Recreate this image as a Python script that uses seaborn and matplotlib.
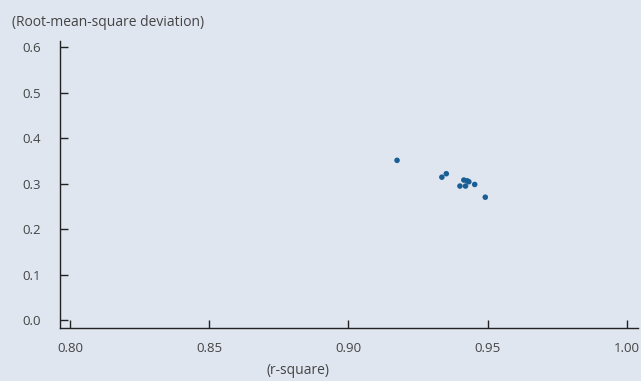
import numpy as np
import pandas as pd
import matplotlib
matplotlib.use('Agg')
import matplotlib.pyplot as plt
import seaborn as sns

r_square = [0.9175, 0.9336, 0.9352, 0.9415, 0.9427, 0.9433, 0.9401, 0.9421, 0.9454, 0.9492]
rmsd = [0.351, 0.314, 0.3216, 0.3077, 0.306, 0.304, 0.2945, 0.2945, 0.298, 0.270]
x_ticks = [0.80, 0.85, 0.90, 0.95, 1.00]
y_ticks = [0.0, 0.1, 0.2, 0.3, 0.4, 0.5, 0.6]

df = pd.DataFrame({'r_square': r_square, 'rmsd': rmsd})

bg = '#e0e6f0'
sns.set_style('ticks')
plt.rcParams['font.family'] = ['Open Sans', 'DejaVu Sans']

fig = plt.figure(figsize=(6.41, 3.81), dpi=100, facecolor=bg)
ax = fig.add_axes([0.0936, 0.139, 0.9014, 0.753])
ax.set_facecolor(bg)
sns.scatterplot(data=df, x='r_square', y='rmsd', ax=ax, color='#1a5e96',
                s=16, edgecolor='none')

ax.set_xlim(0.7964, 1.004)
ax.set_ylim(-0.0176, 0.613)
ax.set_xticks(x_ticks)
ax.set_xticklabels(['{:.2f}'.format(v) for v in x_ticks])
ax.set_yticks(y_ticks)
ax.set_yticklabels(['{:.1f}'.format(v) for v in y_ticks])
ax.tick_params(direction='in', length=6, width=1, color='#222222',
               labelsize=9.5, labelcolor='#444444')
ax.tick_params(axis='y', pad=14)
ax.tick_params(axis='x', pad=10)
for s in ['top', 'right']:
    ax.spines[s].set_visible(False)
for s in ['left', 'bottom']:
    ax.spines[s].set_color('#222222')
    ax.spines[s].set_linewidth(1)
ax.set_xlabel('')
ax.set_ylabel('')

fig.text(12 / 641, 1 - 22 / 381, '(Root-mean-square deviation)', fontsize=10,
         color='#444444', va='center', ha='left')
fig.text(298 / 641, 1 - 370 / 381, '(r-square)', fontsize=10,
         color='#444444', va='center', ha='center')

fig.savefig('out.png', dpi=100, facecolor=bg)
